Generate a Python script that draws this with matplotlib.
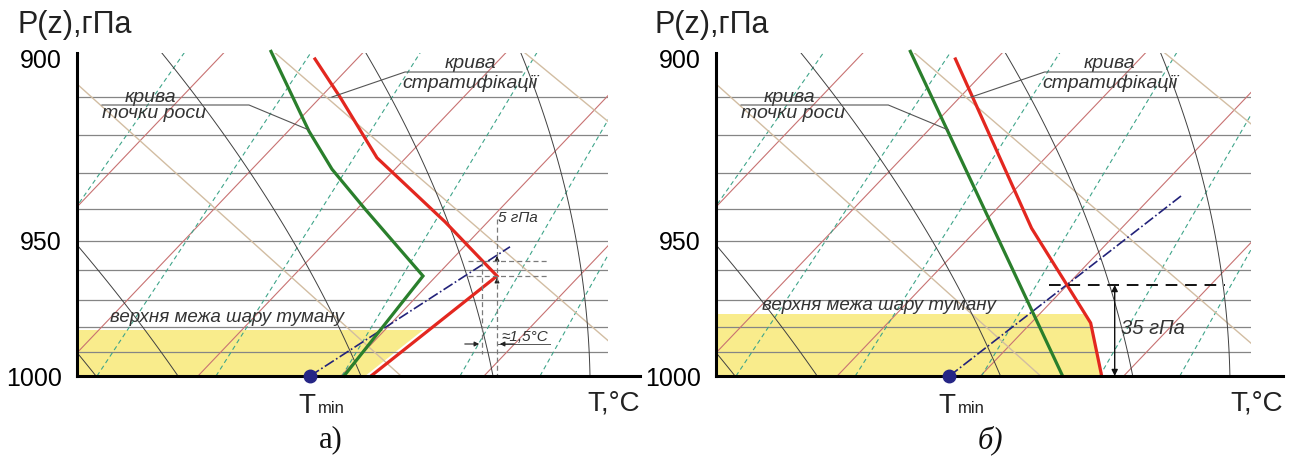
import numpy as np
import matplotlib.pyplot as plt
from matplotlib.patches import Rectangle

plt.rcParams['font.family'] = ['Liberation Sans', 'DejaVu Sans']

W, H = 1302, 461

# schematic pressure scale: drawn height of each isobar above the 1000 hPa line
P_LEV = [890, 900, 910, 920, 930, 940, 950, 960, 970, 980, 990, 1000]
H_LEV = [355, 317, 279, 241, 203, 167, 135, 106, 76, 49, 24, 0]
P_ISOBARS = [910, 920, 930, 940, 950, 960, 970, 980, 990]
P_TICKS = [900, 950, 1000]

# background line families, given by temperature at 1000 hPa
ISOTHERMS = [-30.6, -16.1, -2.2, 12.1, 26.4, 40.7]
DRY_ADIAB = [1.9, 10.1, 28.4, 41.6, 51.3]
MOIST_ADIAB = [32.4, 57.2, 84.0]
MIX_RATIO = [-11.9, 2.0, 13.9, 26.5, 38.3, 46.3]

# а) stratification / dew point
strat_a_T = [23.8, 26.3, 30.0, 36.8, 42.0, 29.4]
strat_a_p = [900, 910, 926, 944, 962, 1000]
dew_a_T = [19.4, 23.2, 25.5, 28.8, 34.6, 26.7]
dew_a_p = [898, 919, 929, 940, 962, 1000]
tmin_a = 23.3
cond_a_T = [23.3, 43.3]
cond_a_p = [1000, 952]
fog_a = 981

# б)
strat_b_T = [23.9, 31.5, 37.4, 38.5]
strat_b_p = [900, 946, 978.5, 1000]
dew_b_T = [19.4, 31.8, 34.6]
dew_b_p = [898, 976, 1000]
tmin_b = 23.3
cond_b_T = [23.3, 46.6]
cond_b_p = [1000, 936]
fog_b = 975
top_b = 965

TOP = 323


def ph(p):
    return np.interp(p, P_LEV, H_LEV)


def background(ax, grid_w):
    clip = Rectangle((0, 0), grid_w, TOP, transform=ax.transData, fill=False)
    hh = np.linspace(0, TOP + 5, 60)
    lines = []
    for p in P_ISOBARS:
        lines += ax.plot([0, grid_w], [ph(p)] * 2, color='#858585', lw=0.9)
    for t0 in ISOTHERMS:
        lines += ax.plot(t0 + hh / 10.5, hh, color='#c87272', lw=0.8)
    for t0 in MIX_RATIO:
        s = 15 + 0.06 * t0
        lines += ax.plot(t0 + hh / s, hh, color='#3fa58a', lw=0.8,
                         ls=(0, (4, 3)))
    for t0 in MOIST_ADIAB:
        s = 9.5 - 0.015 * t0
        lines += ax.plot(t0 - hh / s, hh, color='#d2bda2', lw=1.0)
    for t0 in DRY_ADIAB:
        a = 0.082 - 0.0012 * t0 - 7e-6 * t0 ** 2
        lines += ax.plot(t0 - a * hh - 6e-5 * hh ** 2, hh, color='#404040',
                         lw=0.7)
    for ln in lines:
        ln.set_clip_path(clip)


def panel(ax, grid_w, strat_T, strat_p, dew_T, dew_p, tmin, cond_T, cond_p,
          fog_p, fog_gap):
    ax.set_xlim(0, grid_w + 3.2)
    ax.set_ylim(0, TOP)
    for s in ['top', 'right']:
        ax.spines[s].set_visible(False)
    for s in ['left', 'bottom']:
        ax.spines[s].set_linewidth(2.2)
        ax.spines[s].set_zorder(10)
    ax.set_xticks([])
    ax.set_yticks(ph(P_TICKS))
    ax.set_yticklabels([str(p) for p in P_TICKS], fontsize=18)
    ax.tick_params(axis='y', length=0, pad=11)

    # fog layer, bounded by the stratification curve
    sh = ph(strat_p)[::-1]
    st = np.array(strat_T)[::-1]
    hf = np.linspace(0, ph(fog_p), 50)
    ax.fill_betweenx(hf, 0, np.interp(hf, sh, st) - fog_gap, color='#f9ec8c',
                     lw=0, zorder=0)

    background(ax, grid_w)

    ax.plot(cond_T, ph(cond_p), color='#22227a', lw=1.2, ls='-.', zorder=4)
    ax.plot(strat_T, ph(strat_p), color='#e3271f', lw=2.3, zorder=5,
            solid_joinstyle='miter', clip_on=False)
    ax.plot(dew_T, ph(dew_p), color='#2a7f2c', lw=2.3, zorder=5,
            solid_joinstyle='miter', clip_on=False)
    ax.plot([tmin], [0], 'o', color='#252585', ms=9, zorder=11, clip_on=False)

    it = dict(style='italic', color='#333333', fontsize=14)
    ax.text(7.3, 279, 'крива', ha='center', va='center', **it)
    ax.text(7.7, 262, 'точки роси', ha='center', va='center', **it)
    ax.plot([2.5, 17.2, 23.2], [271, 271, 246], color='#555555', lw=0.8,
            zorder=6)
    ax.text(39.3, 313, 'крива', ha='center', va='center', **it)
    ax.text(39.3, 293, 'стратифікації', ha='center', va='center', **it)
    ax.plot([44.5, 32.8, 25.5], [304, 304, 279], color='#555555', lw=0.8,
            zorder=6)

    ax.text(tmin - 0.3, -37, 'T', ha='center', va='baseline', fontsize=20,
            color='#222222')
    ax.text(tmin + 0.8, -37, 'min', ha='left', va='baseline', fontsize=12,
            color='#222222')
    ax.text(grid_w + 3.2, -27, 'T,°C', ha='right', va='center', fontsize=20,
            color='#222222')


fig = plt.figure(figsize=(W / 100, H / 100), dpi=100)
ax_a = fig.add_axes([77 / W, 85 / H, 563 / W, 323 / H])
ax_b = fig.add_axes([716 / W, 85 / H, 567 / W, 323 / H])

panel(ax_a, 53.1, strat_a_T, strat_a_p, dew_a_T, dew_a_p, tmin_a,
      cond_a_T, cond_a_p, fog_a, 0.7)
panel(ax_b, 53.4, strat_b_T, strat_b_p, dew_b_T, dew_b_p, tmin_b,
      cond_b_T, cond_b_p, fog_b, 0.0)

it = dict(style='italic', color='#333333')

# а) annotations
ax_a.text(3.3, 59, 'верхня межа шару туману', ha='left', va='center',
          fontsize=13.5, **it)
dash = dict(color='#7a7a7a', lw=0.9, ls=(0, (4, 2.5)), zorder=6)
ax_a.plot([42.0, 42.0], [ph(943), 0], **dash)
ax_a.plot([40.5, 40.5], [ph(957), ph(991)], **dash)
ax_a.plot([39.1, 47.0], [ph(957)] * 2, **dash)
ax_a.plot([39.1, 47.0], [ph(962)] * 2, **dash)
ax_a.annotate('', xy=(42.0, ph(957) + 8), xytext=(42.0, ph(957)),
              arrowprops=dict(arrowstyle='-|>', color='#222222', lw=0.8,
                              mutation_scale=7))
ax_a.annotate('', xy=(42.0, ph(962) + 1), xytext=(42.0, ph(962) - 6),
              arrowprops=dict(arrowstyle='-|>', color='#222222', lw=0.8,
                              mutation_scale=7))
ax_a.text(42.1, 158, '5 гПа', ha='left', va='center', fontsize=11, **it)
ax_a.text(42.4, 39, '≈1,5°C', ha='left', va='center', fontsize=11, **it)
ax_a.plot([42.0, 47.3], [32, 32], color='#555555', lw=0.7)
ax_a.annotate('', xy=(40.5, 32), xytext=(38.5, 32),
              arrowprops=dict(arrowstyle='-|>', color='#222222', lw=0.8,
                              mutation_scale=7))
ax_a.annotate('', xy=(42.0, 32), xytext=(44.0, 32),
              arrowprops=dict(arrowstyle='-|>', color='#222222', lw=0.8,
                              mutation_scale=7))

# б) annotations
ax_b.text(4.6, 71, 'верхня межа шару туману', ha='left', va='center',
          fontsize=13.5, **it)
ax_b.plot([33.2, 50.8], [ph(top_b)] * 2, color='#111111', lw=1.4,
          ls=(0, (6, 4)), zorder=6)
ax_b.annotate('', xy=(39.8, ph(top_b)), xytext=(39.8, 0),
              arrowprops=dict(arrowstyle='<|-|>', color='#111111', lw=1.0,
                              mutation_scale=9, shrinkA=0, shrinkB=0))
ax_b.text(40.4, 48, '35 гПа', ha='left', va='center', fontsize=14.5, **it)

fig.text(17 / W, 1 - 25 / H, 'P(z),гПа', fontsize=22, va='center',
         color='#222222')
fig.text(654 / W, 1 - 25 / H, 'P(z),гПа', fontsize=22, va='center',
         color='#222222')
fig.text(331 / W, 1 - 440 / H, 'а)', fontsize=22, ha='center', va='center',
         family='Liberation Serif', color='#111111')
fig.text(990 / W, 1 - 440 / H, 'б)', fontsize=22, ha='center', va='center',
         family='Liberation Serif', style='italic', color='#111111')

fig.savefig('out.png', dpi=100)
